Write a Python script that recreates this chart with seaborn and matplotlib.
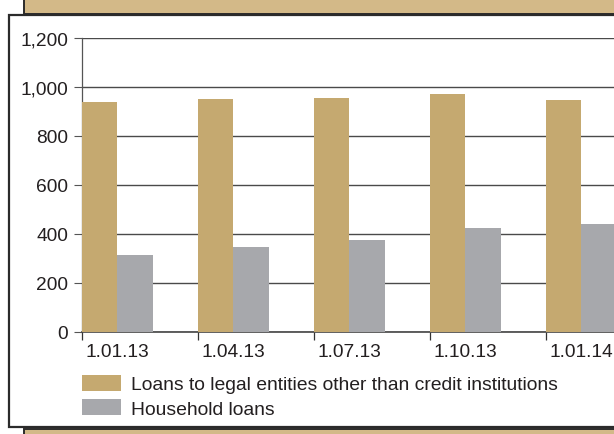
import pandas as pd
import seaborn as sns
import matplotlib.pyplot as plt
from matplotlib.patches import Rectangle

dates = ['1.01.13', '1.04.13', '1.07.13', '1.10.13', '1.01.14']
legal_entities = [940, 952, 956, 973, 948]
household = [313, 345, 373, 422, 438]
series_names = ['Loans to legal entities other than credit institutions', 'Household loans']

tan = '#c5a970'
grey = '#a7a8ac'
frame_tan = '#d3b988'
ink = '#231f20'

df = pd.DataFrame({
    'date': dates * 2,
    'value': legal_entities + household,
    'series': [series_names[0]] * len(dates) + [series_names[1]] * len(dates),
})

sns.set_theme(style='white')
plt.rcParams['font.family'] = ['Liberation Sans', 'DejaVu Sans']

W, H = 614, 435
fig = plt.figure(figsize=(W / 100, H / 100), dpi=100)


def box(x0, y0, x1, y1, **kw):
    # pixel coords from the top-left corner -> figure fraction
    return Rectangle((x0 / W, 1 - y1 / H), (x1 - x0) / W, (y1 - y0) / H,
                     transform=fig.transFigure, zorder=-5, **kw)


# tan heading strip, white panel, tan strip below
fig.patches.append(box(24, -20, 700, 15, facecolor=frame_tan, edgecolor='#2b2b2b', linewidth=1.4))
fig.patches.append(box(24, 430, 700, 470, facecolor=frame_tan, edgecolor='#2b2b2b', linewidth=1.4))
fig.patches.append(box(9, 16, 700, 428, facecolor='white', edgecolor='#2b2b2b', linewidth=1.6))

ax_left = 81.5 / W
ax_bottom = 1 - 332.5 / H
ax_top = 1 - 39.2 / H
ax = fig.add_axes([ax_left, ax_bottom, 1 - ax_left, ax_top - ax_bottom])
ax.patch.set_visible(False)

bar_w = 0.62
sns.barplot(data=df, x='date', y='value', hue='series', palette=[tan, grey],
            width=bar_w, saturation=1, dodge=True, linewidth=0, ax=ax, zorder=3)

handles, labels = ax.get_legend_handles_labels()
ax.get_legend().remove()

ax.set_yticks(range(0, 1201, 200))
ax.set_yticklabels([f'{v:,}' for v in range(0, 1201, 200)])
ax.set_xticks(range(len(dates)))
ax.set_xticklabels(dates)
ax.set_xticks([i - bar_w / 2 for i in range(len(dates) + 1)], minor=True)
ax.set_xlabel('')
ax.set_ylabel('')

px_per_cat = 116
ax.set_xlim(-bar_w / 2, -bar_w / 2 + (W - 81.5) / px_per_cat)
ax.set_ylim(0, 1200)

ax.yaxis.grid(True, color='#4a4a4a', linewidth=1.0, zorder=0)
ax.set_axisbelow(True)

for s in ['top', 'right']:
    ax.spines[s].set_visible(False)
ax.spines['left'].set_color('#555555')
ax.spines['left'].set_linewidth(0.9)
ax.spines['bottom'].set_color('#444444')
ax.spines['bottom'].set_linewidth(1.2)

ax.tick_params(axis='y', direction='out', length=5.8, width=0.8, color='#555555',
               labelsize=13.8, labelcolor=ink, pad=4, left=True)
ax.tick_params(axis='x', which='major', length=0, pad=8, labelsize=13.8, labelcolor=ink)
ax.tick_params(axis='x', which='minor', direction='out', length=5.8, width=0.9,
               color='#333333', bottom=True)

fig.legend(handles, labels, loc='upper left', bbox_to_anchor=(81.5 / W, 1 - 375.5 / H),
           frameon=False, fontsize=13.9, handlelength=2.05, handleheight=0.9,
           handletextpad=0.5, labelspacing=0.32, borderpad=0, borderaxespad=0,
           labelcolor=ink)

fig.savefig('out.png', dpi=100)
